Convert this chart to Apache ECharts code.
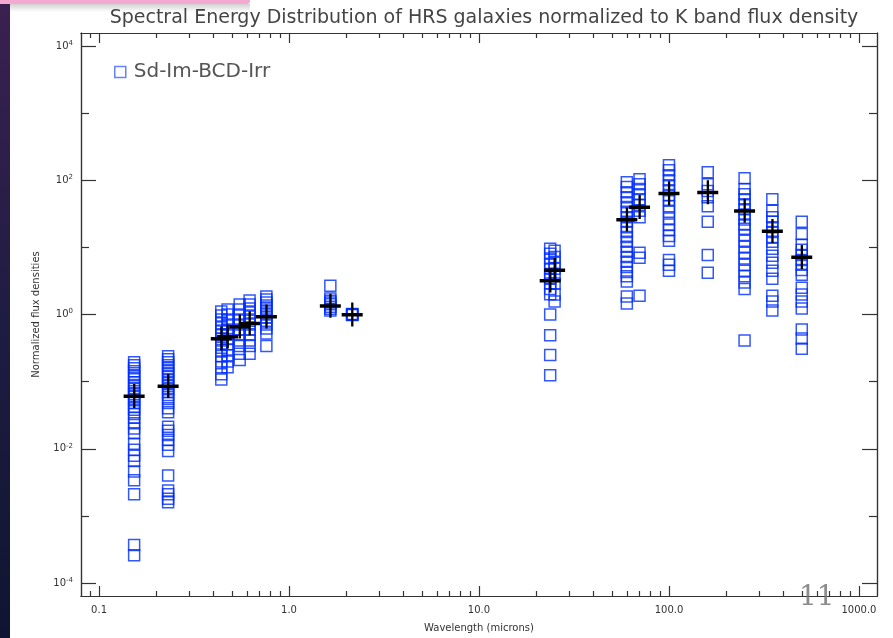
<!DOCTYPE html>
<html>
<head>
<meta charset="utf-8">
<script src="https://cdn.jsdelivr.net/npm/echarts@6/dist/echarts.min.js"></script>
<style>
  html, body { margin: 0; padding: 0; background: #fff; }
  #main { width: 893px; height: 638px; }
</style>
</head>
<body>
<div id="main"></div>
<script>
// wavelengths (microns) of the photometric bands
const bandNames = ['FUV', 'NUV', 'B', 'g', 'V', 'r', 'i', 'H', 'K', '24', '25', '60', '70', '100', '160', '250', '350', '500'];
const wavelengths = [0.153, 0.231, 0.44, 0.475, 0.55, 0.62, 0.76, 1.65, 2.15, 23.7, 25, 60, 70, 100, 160, 250, 350, 500];
// mean SED (black crosses)
const meanFlux = [0.061, 0.086, 0.44, 0.47, 0.66, 0.74, 0.93, 1.35, 1.0, 3.2, 4.6, 26, 40, 64, 66, 35, 17.5, 7.2];

// single galaxies, flux normalized to K
const fluxFUV = [0.195, 0.175, 0.158, 0.143, 0.125, 0.113, 0.098, 0.089, 0.080, 0.072, 0.065, 0.059, 0.053, 0.048, 0.042, 0.038, 0.033, 0.029, 0.024, 0.020, 0.017, 0.0119, 0.0097, 0.0079, 0.0066, 0.0046, 0.0034, 0.0021, 0.00037, 0.00026];
const fluxNUV = [0.239, 0.215, 0.195, 0.175, 0.158, 0.143, 0.129, 0.117, 0.105, 0.095, 0.086, 0.077, 0.070, 0.063, 0.055, 0.048, 0.040, 0.035, 0.0212, 0.0185, 0.0161, 0.0136, 0.0115, 0.0093, 0.0040, 0.0024, 0.0021, 0.0018, 0.0016];
const fluxB = [1.11, 0.97, 0.84, 0.74, 0.64, 0.56, 0.49, 0.43, 0.37, 0.32, 0.28, 0.24, 0.20, 0.164, 0.129, 0.108];
const fluxg = [1.19, 1.0, 0.84, 0.71, 0.60, 0.51, 0.43, 0.36, 0.30, 0.247, 0.20, 0.164];
const fluxV = [1.41, 1.19, 1.0, 0.84, 0.71, 0.60, 0.51, 0.41, 0.34, 0.26, 0.21];
const fluxr = [1.61, 1.41, 1.23, 1.07, 0.93, 0.81, 0.71, 0.60, 0.51, 0.41, 0.34, 0.26];
const fluxi = [1.85, 1.67, 1.51, 1.36, 1.23, 1.11, 1.0, 0.90, 0.81, 0.71, 0.62, 0.52, 0.34];
const fluxH = [2.69, 1.73, 1.6, 1.51, 1.42, 1.31, 1.22, 1.15];
const fluxK = [1.0, 1.0, 1.0, 0.98, 1.02];
const flux24 = [9.5, 8.0, 6.8, 5.7, 4.8, 4.0, 3.4, 2.9, 2.4, 2.0, 1.0, 0.49, 0.25, 0.125];
const flux25 = [8.9, 7.2, 5.9, 4.8, 3.9, 2.9, 1.98, 1.56];
const flux60 = [93, 79, 66, 56, 47, 40, 34, 28, 24, 20, 17, 14.3, 12.1, 10.2, 8.6, 7.2, 6.1, 5.1, 4.3, 3.7, 3.1, 1.85, 1.46];
const flux70 = [103, 87, 74, 62, 52, 43, 35, 28, 8.3, 7.0, 1.91];
const flux100 = [167, 141, 119, 100, 84, 71, 60, 51, 41, 34, 27, 22, 18, 14.8, 12.5, 6.5, 5.5, 4.5];
const flux160 = [131, 87, 69, 56, 41, 24, 7.7, 4.2];
const flux250 = [107, 74, 62, 52, 44, 37, 31, 26, 22, 19, 15.3, 12.5, 10.2, 8.3, 6.8, 5.5, 4.5, 3.7, 3.0, 2.4, 0.41];
const flux350 = [52, 35, 28, 24, 20, 17, 14.3, 12.1, 9.5, 7.5, 5.9, 4.5, 3.4, 1.91, 1.56, 1.15];
const flux500 = [24, 15.8, 10.9, 9.2, 7.7, 6.5, 5.5, 4.6, 3.9, 2.5, 1.98, 1.56, 1.23, 0.60, 0.44, 0.31];

const bandFluxes = [fluxFUV, fluxNUV, fluxB, fluxg, fluxV, fluxr, fluxi, fluxH, fluxK, flux24, flux25, flux60, flux70, flux100, flux160, flux250, flux350, flux500];

// axis ticks
const xMajorTicks = [0.1, 1, 10, 100, 1000];
const xTickLabels = ['0.1', '1.0', '10.0', '100.0', '1000.0'];
const xMinorTicks = [0.08, 0.09];
[0.1, 1, 10, 100].forEach(function (d) {
  for (let k = 2; k <= 9; k++) xMinorTicks.push(+(k * d).toPrecision(3));
});
const yMajorTicks = [1e-4, 1e-2, 1, 1e2, 1e4];
const yMinorTicks = [1e-3, 1e-1, 10, 1e3];

const xMin = Math.pow(10, -1.095), xMax = Math.pow(10, 3.095);
const yMin = Math.pow(10, -4.193), yMax = Math.pow(10, 4.193);

const galaxyPoints = [];
bandFluxes.forEach(function (arr, i) {
  arr.forEach(function (v) { galaxyPoints.push([wavelengths[i], v]); });
});
const meanPoints = wavelengths.map(function (w, i) { return [w, meanFlux[i]]; });

const axisColor = '#333';
const squareColor = 'rgba(0, 45, 255, 0.8)';

function sameLog(a, b) { return Math.abs(Math.log10(a) - Math.log10(b)) < 1e-6; }

function xAxisCfg(pos, ticks, len, labels) {
  return {
    type: 'log', position: pos, min: xMin, max: xMax, gridIndex: 0,
    axisLine: { show: true, lineStyle: { color: axisColor, width: 1.2 } },
    axisTick: { show: true, inside: true, length: len, customValues: ticks, lineStyle: { color: axisColor, width: 1.2 } },
    axisLabel: labels ? {
      show: true, customValues: ticks, margin: 9, color: '#333', fontSize: 10, fontFamily: 'DejaVu Sans',
      formatter: function (v) {
        for (let i = 0; i < xMajorTicks.length; i++) if (sameLog(v, xMajorTicks[i])) return xTickLabels[i];
        return '';
      }
    } : { show: false },
    splitLine: { show: false }, minorTick: { show: false }
  };
}

function yAxisCfg(pos, ticks, len, labels) {
  return {
    type: 'log', position: pos, min: yMin, max: yMax, gridIndex: 0,
    axisLine: { show: true, lineStyle: { color: axisColor, width: 1.2 } },
    axisTick: { show: true, inside: true, length: len, customValues: ticks, lineStyle: { color: axisColor, width: 1.2 } },
    axisLabel: labels ? {
      show: true, customValues: ticks, margin: 8, color: '#333',
      formatter: function (v) {
        return '{b|10}{s|' + Math.round(Math.log10(v)) + '}';
      },
      rich: {
        b: { fontSize: 10, fontFamily: 'DejaVu Sans', color: '#333' },
        s: { fontSize: 7, fontFamily: 'DejaVu Sans', color: '#333', verticalAlign: 'top', padding: [0, 0, 6, 0] }
      }
    } : { show: false },
    splitLine: { show: false }, minorTick: { show: false }
  };
}

const chart = echarts.init(document.getElementById('main'));

const xAxes = [
  xAxisCfg('bottom', xMajorTicks, 10, true),
  xAxisCfg('bottom', xMinorTicks, 5, false),
  xAxisCfg('top', xMajorTicks, 10, false),
  xAxisCfg('top', xMinorTicks, 5, false)
];
xAxes[0].name = 'Wavelength (microns)';
xAxes[0].nameLocation = 'middle';
xAxes[0].nameGap = 27;
xAxes[0].nameTextStyle = { fontSize: 10, color: '#333', fontFamily: 'DejaVu Sans' };

const yAxes = [
  yAxisCfg('left', yMajorTicks, 15, true),
  yAxisCfg('left', yMinorTicks, 8, false),
  yAxisCfg('right', yMajorTicks, 15, false),
  yAxisCfg('right', yMinorTicks, 8, false)
];
yAxes[0].name = 'Normalized flux densities';
yAxes[0].nameLocation = 'middle';
yAxes[0].nameGap = 40;
yAxes[0].nameTextStyle = { fontSize: 10, color: '#333', fontFamily: 'DejaVu Sans' };

chart.setOption({
  backgroundColor: '#fff',
  animation: false,
  title: {
    text: 'Spectral Energy Distribution of HRS galaxies normalized to K band flux density',
    left: 479, top: 4, textAlign: 'center',
    textStyle: { fontSize: 19, fontWeight: 'normal', color: '#444', fontFamily: 'DejaVu Sans' }
  },
  legend: {
    data: ['Sd-Im-BCD-Irr'],
    left: 109, top: 57,
    icon: 'rect', itemWidth: 11, itemHeight: 11,
    itemStyle: { color: 'rgba(0,0,0,0)', borderColor: 'rgba(0, 45, 255, 0.6)', borderWidth: 1.5 },
    textStyle: { fontSize: 20, color: '#555', fontFamily: 'DejaVu Sans', padding: [0, 0, 0, 3] }
  },
  grid: { left: 81, right: 16, top: 33, bottom: 39 },
  xAxis: xAxes,
  yAxis: yAxes,
  graphic: [
    {
      type: 'rect', left: 0, top: 0, z: 100,
      shape: { width: 10, height: 638 },
      style: {
        fill: new echarts.graphic.LinearGradient(0, 0, 0, 1, [
          { offset: 0, color: '#3b2150' },
          { offset: 0.5, color: '#1f1c42' },
          { offset: 1, color: '#0f1530' }
        ])
      }
    },
    {
      type: 'rect', left: 10, top: 4, z: 99,
      shape: { width: 240, height: 8 },
      style: {
        fill: new echarts.graphic.LinearGradient(0, 0, 0, 1, [
          { offset: 0, color: 'rgba(0,0,0,0.18)' },
          { offset: 1, color: 'rgba(0,0,0,0)' }
        ])
      }
    },
    {
      type: 'rect', left: 0, top: 0, z: 101,
      shape: { width: 250, height: 4, r: [0, 0, 3, 0] },
      style: { fill: '#f4a9d3' }
    },
    {
      type: 'text', left: 799, top: 584, z: 50,
      style: { text: '11', fontSize: 28, fill: 'rgba(120,120,120,0.85)', fontFamily: 'DejaVu Serif' }
    }
  ],
  series: [
    {
      name: 'Sd-Im-BCD-Irr',
      type: 'scatter',
      xAxisIndex: 0, yAxisIndex: 0,
      symbol: 'rect',
      symbolSize: 11,
      itemStyle: { color: 'rgba(0,0,0,0)', borderColor: squareColor, borderWidth: 1.5, opacity: 1 },
      data: galaxyPoints,
      z: 2
    },
    {
      name: 'mean',
      type: 'scatter',
      xAxisIndex: 0, yAxisIndex: 0,
      symbol: 'path://M0,10.5h20v3.5h-20z M9,0h2.2v24h-2.2z',
      symbolSize: [21, 24],
      itemStyle: { color: '#000', opacity: 1 },
      data: meanPoints,
      z: 3
    }
  ]
});
</script>
</body>
</html>
